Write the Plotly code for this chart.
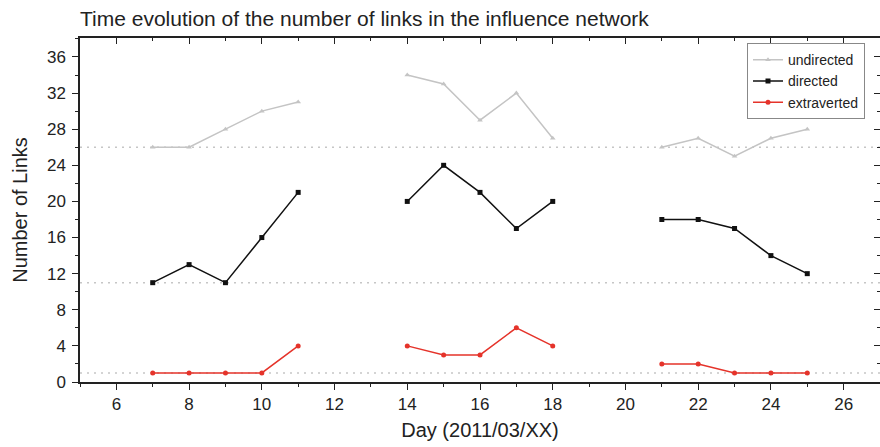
import plotly.graph_objects as go

# Days of March 2011 (None marks the gaps between observation periods)
days = [7, 8, 9, 10, 11, None, 14, 15, 16, 17, 18, None, 21, 22, 23, 24, 25]
undirected = [26, 26, 28, 30, 31, None, 34, 33, 29, 32, 27, None, 26, 27, 25, 27, 28]
directed = [11, 13, 11, 16, 21, None, 20, 24, 21, 17, 20, None, 18, 18, 17, 14, 12]
extraverted = [1, 1, 1, 1, 4, None, 4, 3, 3, 6, 4, None, 2, 2, 1, 1, 1]

# Horizontal dotted reference levels
reference_levels = [26, 11, 1]

series = [
    ("undirected", undirected, "#c4c4c4", "triangle-up"),
    ("directed", directed, "#111111", "square"),
    ("extraverted", extraverted, "#e5332a", "circle"),
]

FONT = "Liberation Sans, Arial, sans-serif"
INK = "#222222"

fig = go.Figure()

for level in reference_levels:
    fig.add_hline(y=level, line=dict(color="#c6c6c6", width=1.4, dash="2px,5px"), layer="below")

for name, values, color, symbol in series:
    fig.add_trace(go.Scatter(
        x=days, y=values, name=name, mode="lines+markers",
        line=dict(color=color, width=1.5),
        marker=dict(color=color, symbol=symbol, size=5),
        connectgaps=False,
    ))

axis_common = dict(
    showgrid=False, zeroline=False, showline=True,
    linecolor=INK, linewidth=1.5,
    tickcolor=INK, tickwidth=1.2,
    tickfont=dict(family=FONT, size=17, color=INK),
)

fig.update_layout(
    width=880, height=447,
    margin=dict(l=80, r=0, t=38, b=65),
    paper_bgcolor="white", plot_bgcolor="white",
    title=dict(
        text="Time evolution of the number of links in the influence network",
        x=80 / 880, xanchor="left", y=1 - 19 / 447, yanchor="middle",
        font=dict(family=FONT, size=21, color=INK),
    ),
    xaxis=dict(
        range=[5, 27], dtick=2, tick0=0, ticks="outside", ticklen=6,
        minor=dict(dtick=1, ticklen=3, ticks="outside", tickcolor=INK),
        mirror=True,
        title=dict(text="Day (2011/03/XX)", font=dict(family=FONT, size=20, color=INK), standoff=10),
        **axis_common,
    ),
    yaxis=dict(
        range=[0, 38.1], dtick=4, tick0=0, ticks="outside", ticklen=6,
        ticklabelstandoff=3,
        minor=dict(dtick=2, ticklen=3, ticks="outside", tickcolor=INK),
        mirror=False,
        title=dict(text="Number of Links", font=dict(family=FONT, size=20, color=INK), standoff=14),
        **axis_common,
    ),
    # top and right axes carry inward-pointing ticks only
    xaxis2=dict(
        overlaying="x", side="top", anchor="y", range=[5, 27], dtick=2, tick0=0,
        ticks="inside", ticklen=6, showticklabels=False, showgrid=False, zeroline=False,
        tickcolor=INK, tickwidth=1.2,
        minor=dict(dtick=1, ticklen=3, ticks="inside", tickcolor=INK),
    ),
    yaxis2=dict(
        overlaying="y", side="right", anchor="x", range=[0, 38.1], dtick=4, tick0=0,
        ticks="inside", ticklen=6, showticklabels=False, showgrid=False, zeroline=False,
        tickcolor=INK, tickwidth=1.2,
        minor=dict(dtick=2, ticklen=3, ticks="inside", tickcolor=INK),
    ),
    legend=dict(
        x=(865 - 80) / 800, xanchor="right", y=0.985, yanchor="top",
        bgcolor="white", bordercolor="#888888", borderwidth=1,
        font=dict(family=FONT, size=14, color=INK),
        tracegroupgap=0, itemwidth=30,
    ),
    showlegend=True,
)

# invisible trace that activates the overlay axes
fig.add_trace(go.Scatter(x=[5], y=[0], xaxis="x2", yaxis="y2", mode="markers",
                         marker=dict(opacity=0), showlegend=False, hoverinfo="skip"))

fig.write_html("out.html")
